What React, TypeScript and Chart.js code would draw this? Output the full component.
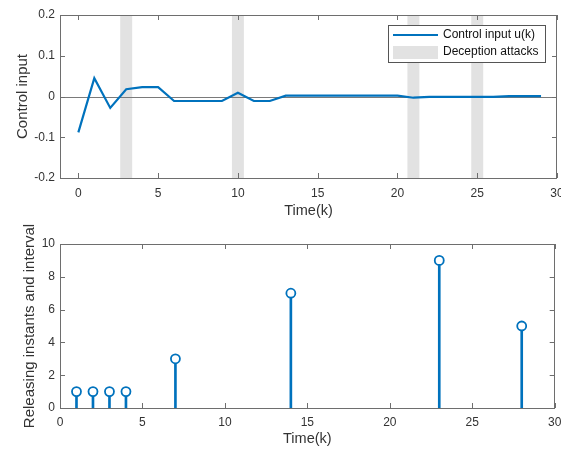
import React, { useEffect, useRef } from "react";
import { Chart, registerables } from "chart.js";

Chart.register(...registerables);

// ---- data ----
const timeSteps = [0, 1, 2, 3, 4, 5, 6, 7, 8, 9, 10, 11, 12, 13, 14, 15, 16, 17, 18, 19, 20, 21, 22, 23, 24, 25, 26, 27, 28, 29];
const controlInput = [
  -0.088, 0.045, -0.028, 0.018, 0.023, 0.023, -0.011, -0.011, -0.011, -0.011,
  0.009, -0.011, -0.011, 0.002, 0.002, 0.002, 0.002, 0.002, 0.002, 0.002,
  0.002, -0.003, -0.001, -0.001, -0.001, -0.001, -0.001, 0.001, 0.001, 0.001,
];
const attackInstants = [3, 10, 21, 25];
const attackHalfWidth = 0.375;

const releaseInstants = [1, 2, 3, 4, 7, 14, 23, 28];
const releaseIntervals = [1, 1, 1, 1, 3, 7, 9, 5];

const timeTicks = [0, 5, 10, 15, 20, 25, 30];
const inputTicks = [-0.2, -0.1, 0, 0.1, 0.2];
const intervalTicks = [0, 2, 4, 6, 8, 10];

// ---- styling ----
const BLUE = "#0072BD";
const AXIS = "#6e6e6e";
const TEXT = "#333333";
const BAND = "#e2e2e2";
const FONT = "'Liberation Sans', Arial, Helvetica, sans-serif";
const W = 561;

type FrameOpts = {
  bands?: number[];
  zeroLine?: boolean;
  legend?: { x: number; y: number; w: number; h: number };
};

// MATLAB-like axes: box, inward ticks, shaded attack windows and legend
function matlabFrame(opts: FrameOpts) {
  return {
    id: "matlabFrame",
    beforeDatasetsDraw(chart: any) {
      const { ctx, chartArea: a, scales } = chart;
      const xs = scales.x;
      const ys = scales.y;
      ctx.save();
      if (opts.bands) {
        ctx.fillStyle = BAND;
        for (const k of opts.bands) {
          const l = xs.getPixelForValue(k - attackHalfWidth);
          const r = xs.getPixelForValue(k + attackHalfWidth);
          ctx.fillRect(l, a.top, r - l, a.bottom - a.top);
        }
      }
      if (opts.zeroLine) {
        const y0 = Math.round(ys.getPixelForValue(0)) + 0.5;
        ctx.strokeStyle = "#7a7a7a";
        ctx.lineWidth = 1;
        ctx.beginPath();
        ctx.moveTo(a.left, y0);
        ctx.lineTo(a.right, y0);
        ctx.stroke();
      }
      ctx.restore();
    },
    afterDatasetsDraw(chart: any) {
      const { ctx, chartArea: a, scales } = chart;
      const xs = scales.x;
      const ys = scales.y;
      const tl = 5;
      ctx.save();
      ctx.strokeStyle = AXIS;
      ctx.lineWidth = 1;
      ctx.beginPath();
      for (const t of xs.ticks) {
        const px = Math.round(xs.getPixelForValue(t.value)) + 0.5;
        ctx.moveTo(px, a.bottom);
        ctx.lineTo(px, a.bottom - tl);
        ctx.moveTo(px, a.top);
        ctx.lineTo(px, a.top + tl);
      }
      for (const t of ys.ticks) {
        const py = Math.round(ys.getPixelForValue(t.value)) + 0.5;
        ctx.moveTo(a.left, py);
        ctx.lineTo(a.left + tl, py);
        ctx.moveTo(a.right, py);
        ctx.lineTo(a.right - tl, py);
      }
      ctx.stroke();
      ctx.strokeRect(Math.round(a.left) + 0.5, Math.round(a.top) + 0.5, Math.round(a.right - a.left) - 1, Math.round(a.bottom - a.top));
      ctx.restore();
    },
    afterDraw(chart: any) {
      if (!opts.legend) return;
      const { ctx } = chart;
      const L = opts.legend;
      ctx.save();
      ctx.fillStyle = "#ffffff";
      ctx.fillRect(L.x, L.y, L.w, L.h);
      ctx.strokeStyle = "#555555";
      ctx.lineWidth = 1;
      ctx.strokeRect(L.x + 0.5, L.y + 0.5, L.w, L.h);
      const row1 = L.y + 10;
      const row2 = L.y + 27;
      ctx.strokeStyle = BLUE;
      ctx.lineWidth = 2;
      ctx.beginPath();
      ctx.moveTo(L.x + 5, row1);
      ctx.lineTo(L.x + 50, row1);
      ctx.stroke();
      ctx.fillStyle = BAND;
      ctx.fillRect(L.x + 5, row2 - 6, 45, 13);
      ctx.fillStyle = "#111111";
      ctx.font = `12px ${FONT}`;
      ctx.textBaseline = "middle";
      ctx.textAlign = "left";
      ctx.fillText("Control input u(k)", L.x + 55, row1);
      ctx.fillText("Deception attacks", L.x + 55, row2);
      ctx.restore();
    },
  };
}

function fixedScales(xHeight: number, yWidth: number, xMin: number, xMax: number, yTicks: number[], xTitlePad: number, yTitlePad: number, yTitle: string, xTickPad: number) {
  return {
    x: {
      type: "linear" as const,
      min: xMin,
      max: xMax,
      offset: false,
      grid: { display: false, drawTicks: false, tickLength: 0 },
      border: { display: false },
      afterBuildTicks: (s: any) => {
        s.ticks = timeTicks.map((v) => ({ value: v }));
      },
      afterFit: (s: any) => {
        s.height = xHeight;
        s.paddingLeft = 0;
        s.paddingRight = 0;
      },
      ticks: {
        color: TEXT,
        font: { family: FONT, size: 12 },
        padding: xTickPad,
        maxRotation: 0,
        autoSkip: false,
      },
      title: {
        display: true,
        text: "Time(k)",
        color: TEXT,
        font: { family: FONT, size: 14.5 },
        padding: { top: 0, bottom: xTitlePad },
      },
    },
    y: {
      type: "linear" as const,
      min: yTicks[0],
      max: yTicks[yTicks.length - 1],
      grid: { display: false, drawTicks: false, tickLength: 0 },
      border: { display: false },
      afterBuildTicks: (s: any) => {
        s.ticks = yTicks.map((v) => ({ value: v }));
      },
      afterFit: (s: any) => {
        s.width = yWidth;
        s.paddingTop = 0;
        s.paddingBottom = 0;
      },
      ticks: {
        color: TEXT,
        font: { family: FONT, size: 12 },
        padding: 5,
        autoSkip: false,
        callback: (v: any) => String(Math.round(Number(v) * 10) / 10),
      },
      title: {
        display: true,
        text: yTitle,
        color: TEXT,
        font: { family: FONT, size: 15 },
        padding: { top: yTitlePad, bottom: 0 },
      },
    },
  };
}

function ControlPanel() {
  const ref = useRef<HTMLCanvasElement>(null);
  useEffect(() => {
    const chart = new Chart(ref.current!, {
      type: "line",
      data: {
        datasets: [
          {
            label: "Control input u(k)",
            data: timeSteps.map((k, i) => ({ x: k, y: controlInput[i] })),
            borderColor: BLUE,
            borderWidth: 2.2,
            pointRadius: 0,
            tension: 0,
            fill: false,
          },
        ],
      },
      options: {
        animation: false,
        responsive: false,
        devicePixelRatio: 1,
        layout: { padding: { left: 0, top: 15, right: 4, bottom: 0 } },
        plugins: { legend: { display: false }, tooltip: { enabled: false } },
        scales: fixedScales(42, 60, -1.15, 30, inputTicks, 0, 13.5, "Control input", 8) as any,
      },
      plugins: [matlabFrame({ bands: attackInstants, zeroLine: true, legend: { x: 388, y: 25, w: 157, h: 37 } })],
    });
    return () => chart.destroy();
  }, []);
  return <canvas ref={ref} width={W} height={220} style={{ position: "absolute", left: 0, top: 0 }} />;
}

function ReleasePanel() {
  const ref = useRef<HTMLCanvasElement>(null);
  useEffect(() => {
    const chart = new Chart(ref.current!, {
      type: "bar",
      data: {
        datasets: [
          {
            type: "scatter" as any,
            label: "Releasing instants",
            data: releaseInstants.map((k, i) => ({ x: k, y: releaseIntervals[i] })),
            pointRadius: 4.5,
            pointBorderWidth: 1.8,
            pointBorderColor: BLUE,
            pointBackgroundColor: "#ffffff",
            showLine: false,
          },
          {
            type: "bar" as any,
            label: "Interval",
            data: releaseInstants.map((k, i) => ({ x: k, y: releaseIntervals[i] })),
            backgroundColor: BLUE,
            barThickness: 2,
            borderWidth: 0,
          },
        ],
      },
      options: {
        animation: false,
        responsive: false,
        devicePixelRatio: 1,
        layout: { padding: { left: 0, top: 24, right: 3, bottom: 0 } },
        plugins: { legend: { display: false }, tooltip: { enabled: false } },
        scales: fixedScales(44, 60, 0, 30, intervalTicks, 4.7, 20.5, "Releasing instants and interval", 7) as any,
      },
      plugins: [matlabFrame({})],
    });
    return () => chart.destroy();
  }, []);
  return <canvas ref={ref} width={W} height={232} style={{ position: "absolute", left: 0, top: 220 }} />;
}

export default function App() {
  return (
    <div style={{ position: "absolute", left: 0, top: 0, width: W, height: 452, background: "#ffffff" }}>
      <ControlPanel />
      <ReleasePanel />
    </div>
  );
}
